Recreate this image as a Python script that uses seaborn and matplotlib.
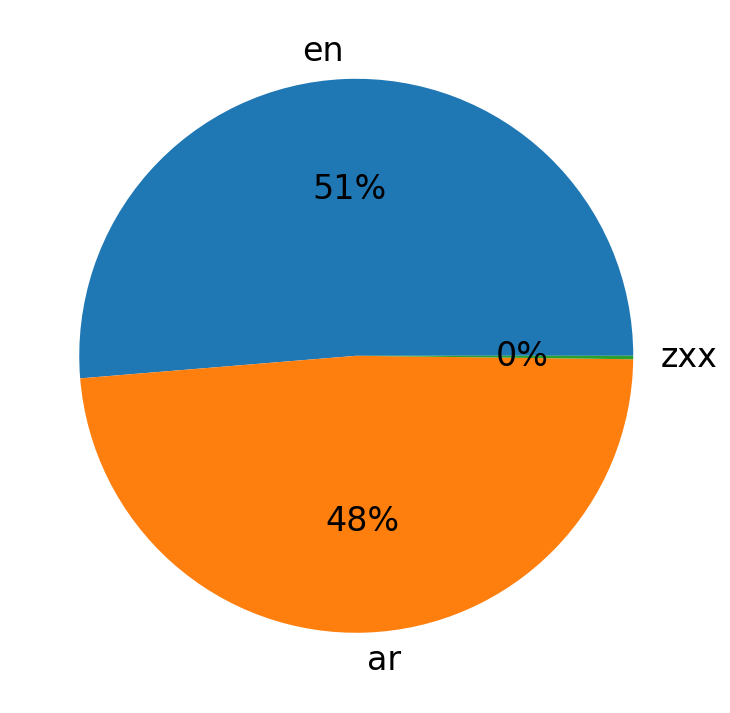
"""
Pie chart of tweet languages.
"""

import matplotlib
matplotlib.use("Agg")
import matplotlib.pyplot as plt
import seaborn as sns

languages = ["en", "ar", "zxx"]
counts = [513, 485, 2]


def plot_pie(output_path):
    colors = sns.color_palette("tab10", len(languages))
    fig = plt.figure(figsize=(7.3, 7.13), dpi=100)
    ax = fig.add_axes([0.0137, 0.0154, 0.9486, 0.9712])
    ax.pie(counts, labels=languages, colors=colors, autopct="%1.0f%%",
           textprops={"fontsize": 24})
    ax.set_aspect("equal")
    plt.savefig(output_path)
    plt.close()


if __name__ == "__main__":
    plot_pie("out.png")
